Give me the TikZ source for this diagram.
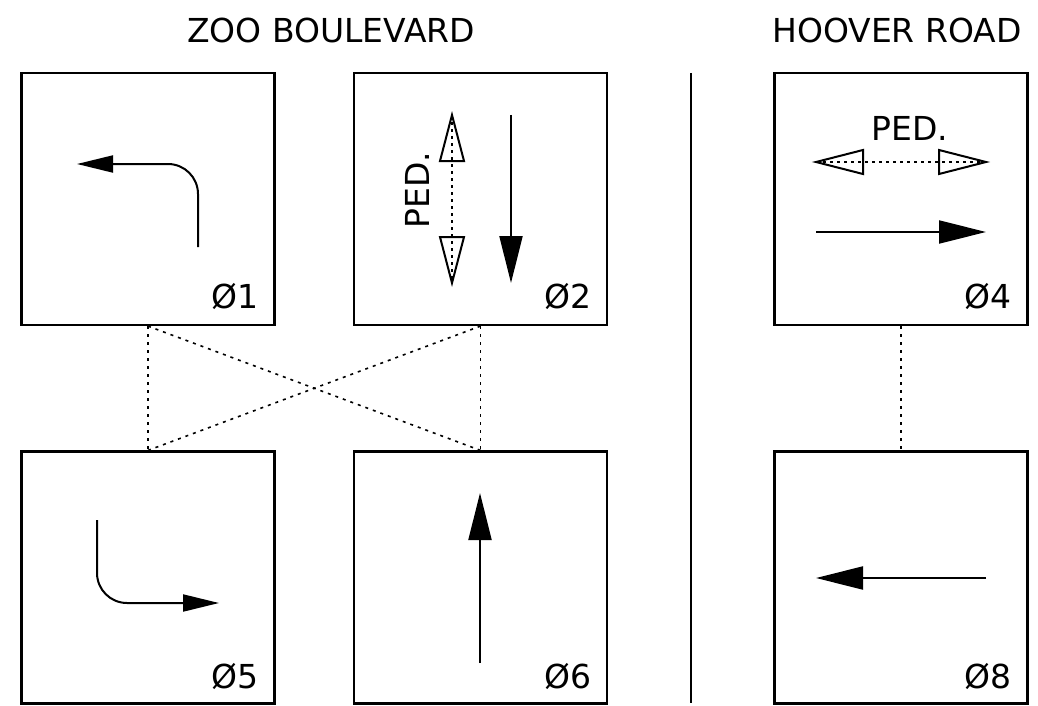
\documentclass[tikz,border=0pt]{standalone}
\usepackage{fontspec}
\setmainfont{DejaVu Sans}
\usetikzlibrary{arrows.meta}
\begin{document}
\begin{tikzpicture}[x=1pt,y=-1pt,
  phasebox/.style={draw,line width=2.2pt,minimum width=253pt,minimum height=252pt,inner sep=0pt},
  lbl/.style={font=\fontsize{33}{40}\selectfont,inner sep=0pt},
  dotconn/.style={line width=1.6pt,dash pattern=on 3pt off 5pt},
  pedline/.style={line width=1.6pt,dash pattern=on 3pt off 4pt},
  pedhead/.style={line width=2pt,line join=miter},
  mv/.style={line width=2pt,-{Triangle[length=47pt,width=23pt]}},
  turn/.style={line width=2pt,rounded corners=30pt,-{Triangle[length=36pt,width=17pt]}}]
\useasboundingbox (0,0) rectangle (1038,706);
% titles
\node[lbl,anchor=base] (t1) at (331,43) {ZOO BOULEVARD};
\node[lbl,anchor=base] (t2) at (897,43) {HOOVER ROAD};
% boxes
\node[phasebox] (b1) at (148,199) {};
\node[phasebox] (b2) at (480.5,199) {};
\node[phasebox] (b4) at (901,199) {};
\node[phasebox] (b5) at (148,577.5) {};
\node[phasebox] (b6) at (480.5,577.5) {};
\node[phasebox] (b8) at (901,577.5) {};
% separator
\draw[line width=2pt] (691,73) -- (691,703);
% dotted connectors
\draw[dotconn] (b1.south) -- (b5.north);
\draw[dotconn] (b2.south) -- (b6.north);
\draw[dotconn] (b1.south) -- (b6.north);
\draw[dotconn] (b2.south) -- (b5.north);
\draw[dotconn] (b4.south) -- (b8.north);
% phase labels
\node[lbl,anchor=base east] (l1) at (259,308) {Ø1};
\node[lbl,anchor=base east] (l2) at (592,308) {Ø2};
\node[lbl,anchor=base east] (l4) at (1012,308) {Ø4};
\node[lbl,anchor=base east] (l5) at (259,688) {Ø5};
\node[lbl,anchor=base east] (l6) at (592,688) {Ø6};
\node[lbl,anchor=base east] (l8) at (1012,688) {Ø8};
% phase 1: left turn
\draw[turn] (198,247) -- (198,164) -- (77,164);
% phase 5: left turn
\draw[turn] (97,520) -- (97,603) -- (219,603);
% phase 2
\draw[mv] (511,115) -- (511,283);
\draw[pedline] (452,115) -- (452,283);
\draw[pedhead] (452,115) -- (440,161) -- (464,161) -- cycle;
\draw[pedhead] (452,283) -- (440,237) -- (464,237) -- cycle;
\node[lbl,anchor=base,rotate=90] (p2) at (429,190) {PED.};
% phase 6
\draw[mv] (480,663) -- (480,493);
% phase 4
\draw[mv] (816,232) -- (986,232);
\draw[pedline] (816,162) -- (986,162);
\draw[pedhead] (816,162) -- (863,150) -- (863,174) -- cycle;
\draw[pedhead] (986,162) -- (939,150) -- (939,174) -- cycle;
\node[lbl,anchor=base] (p4) at (910,140) {PED.};
% phase 8
\draw[mv] (986,578) -- (816,578);
\end{tikzpicture}
\end{document}
